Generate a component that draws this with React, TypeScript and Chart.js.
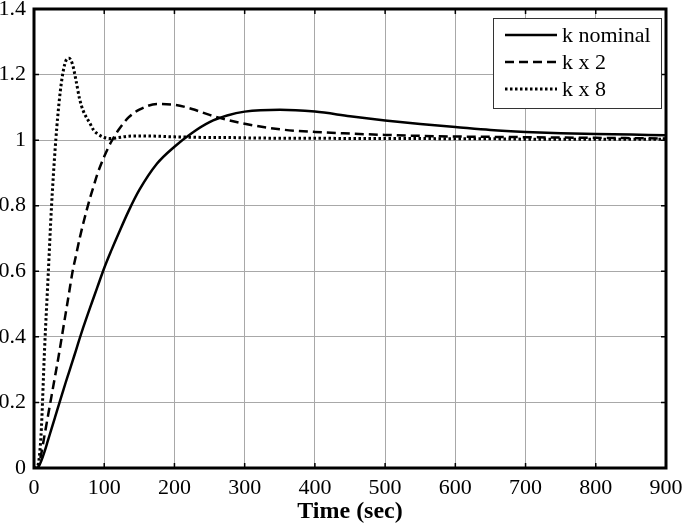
import React, { useEffect, useRef } from "react";
import { Chart, registerables } from "chart.js";

Chart.register(...registerables);

const timeSec = [0, 5, 10, 15, 20, 25, 30, 35, 40, 45, 50, 55, 60, 65, 70, 80, 85, 90, 100, 110, 120, 135, 150, 175, 200, 225, 250, 275, 300, 350, 400, 450, 500, 550, 600, 650, 700, 750, 800, 850, 900];

const kNominal = [0, 0, 0.02, 0.05, 0.085, 0.12, 0.155, 0.19, 0.225, 0.26, 0.293, 0.327, 0.36, 0.395, 0.428, 0.49, 0.52, 0.55, 0.61, 0.663, 0.713, 0.785, 0.848, 0.928, 0.98, 1.022, 1.055, 1.075, 1.087, 1.093, 1.087, 1.073, 1.06, 1.049, 1.04, 1.031, 1.025, 1.021, 1.019, 1.017, 1.015];

const kTimes2 = [0, 0, 0.04, 0.1, 0.16, 0.22, 0.28, 0.34, 0.405, 0.47, 0.535, 0.6, 0.65, 0.7, 0.745, 0.825, 0.86, 0.895, 0.95, 0.995, 1.03, 1.07, 1.093, 1.11, 1.108, 1.095, 1.077, 1.062, 1.05, 1.033, 1.025, 1.02, 1.016, 1.013, 1.011, 1.01, 1.009, 1.008, 1.007, 1.006, 1.005];

const kTimes8 = [0, 0.005, 0.1, 0.36, 0.58, 0.8, 0.97, 1.1, 1.19, 1.24, 1.25, 1.23, 1.18, 1.125, 1.09, 1.05, 1.03, 1.02, 1.008, 1.005, 1.008, 1.012, 1.013, 1.012, 1.01, 1.009, 1.008, 1.008, 1.007, 1.006, 1.006, 1.005, 1.005, 1.005, 1.004, 1.004, 1.003, 1.003, 1.003, 1.003, 1.003];

const seriesLabels = ["k nominal", "k x 2", "k x 8"];
const xTickStep = 100;
const yTickStep = 0.2;
const xMax = 900;
const yMax = 1.4;
const xTitle = "Time (sec)";

const FONT = "'Liberation Serif', 'Times New Roman', serif";

const styles = [
  { width: 2.5, dash: [] as number[] },
  { width: 2.5, dash: [9, 5] },
  { width: 3, dash: [2.5, 2.5] },
];

const framePlugin = {
  id: "frame",
  afterDraw(chart: any) {
    const { ctx, chartArea: a, scales } = chart;
    ctx.save();
    ctx.strokeStyle = "#000";
    ctx.lineWidth = 1.5;
    const tl = 5;
    scales.x.ticks.forEach((t: any) => {
      const px = scales.x.getPixelForValue(t.value);
      ctx.beginPath();
      ctx.moveTo(px, a.bottom);
      ctx.lineTo(px, a.bottom - tl);
      ctx.moveTo(px, a.top);
      ctx.lineTo(px, a.top + tl);
      ctx.stroke();
    });
    scales.y.ticks.forEach((t: any) => {
      const py = scales.y.getPixelForValue(t.value);
      ctx.beginPath();
      ctx.moveTo(a.left, py);
      ctx.lineTo(a.left + tl, py);
      ctx.moveTo(a.right, py);
      ctx.lineTo(a.right - tl, py);
      ctx.stroke();
    });
    ctx.lineWidth = 3;
    ctx.strokeRect(a.left, a.top, a.right - a.left, a.bottom - a.top);

    // legend
    const bw = 168;
    const bh = 90;
    const bx = a.right - 5 - bw;
    const by = a.top + 9;
    ctx.fillStyle = "#fff";
    ctx.fillRect(bx, by, bw, bh);
    ctx.lineWidth = 1;
    ctx.strokeStyle = "#333";
    ctx.strokeRect(bx + 0.5, by + 0.5, bw, bh);
    ctx.font = `22px ${FONT}`;
    ctx.textBaseline = "middle";
    ctx.fillStyle = "#000";
    const rows = [17, 44, 71];
    seriesLabels.forEach((lab, i) => {
      const y = by + rows[i];
      ctx.strokeStyle = "#000";
      ctx.lineWidth = styles[i].width;
      ctx.setLineDash(styles[i].dash);
      ctx.beginPath();
      ctx.moveTo(bx + 12, y);
      ctx.lineTo(bx + 64, y);
      ctx.stroke();
      ctx.setLineDash([]);
      ctx.fillText(lab, bx + 69, y + 1);
    });
    ctx.restore();
  },
};

export default function App() {
  const ref = useRef<HTMLCanvasElement>(null);
  useEffect(() => {
    document.body.style.margin = "0";
    const series = [kNominal, kTimes2, kTimes8];
    const chart = new Chart(ref.current!, {
      type: "line",
      data: {
        datasets: series.map((vals, i) => ({
          label: seriesLabels[i],
          data: timeSec.map((t, j) => ({ x: t, y: vals[j] })),
          borderColor: "#000",
          borderWidth: styles[i].width,
          borderDash: styles[i].dash,
          pointRadius: 0,
          fill: false,
          cubicInterpolationMode: "monotone" as const,
        })),
      },
      options: {
        animation: false,
        responsive: false,
        maintainAspectRatio: false,
        layout: { padding: { top: 9, right: 19, left: 0, bottom: 0 } },
        plugins: { legend: { display: false }, tooltip: { enabled: false } },
        scales: {
          x: {
            type: "linear",
            min: 0,
            max: xMax,
            ticks: {
              stepSize: xTickStep,
              color: "#000",
              font: { family: FONT, size: 22 },
              padding: 7,
              maxRotation: 0,
            },
            grid: { color: "#a8a8a8", lineWidth: 1, drawTicks: false },
            border: { display: false },
            title: {
              display: true,
              text: xTitle,
              color: "#000",
              font: { family: FONT, size: 24, weight: "bold" },
              padding: { top: 0, bottom: 0 },
            },
            afterFit(scale: any) {
              scale.height = 58;
              scale.paddingLeft = 0;
              scale.paddingRight = 0;
            },
          },
          y: {
            min: 0,
            max: yMax,
            ticks: {
              stepSize: yTickStep,
              color: "#000",
              font: { family: FONT, size: 22 },
              padding: 8,
              callback: (v: any) => String(Number(Number(v).toFixed(1))),
            },
            grid: { color: "#a8a8a8", lineWidth: 1, drawTicks: false },
            border: { display: false },
            afterFit(scale: any) {
              scale.width = 34;
              scale.paddingTop = 0;
              scale.paddingBottom = 0;
            },
          },
        },
      },
      plugins: [framePlugin],
    });
    return () => chart.destroy();
  }, []);
  return (
    <div style={{ width: 685, height: 526, background: "#fff" }}>
      <canvas ref={ref} width={685} height={526} />
    </div>
  );
}
